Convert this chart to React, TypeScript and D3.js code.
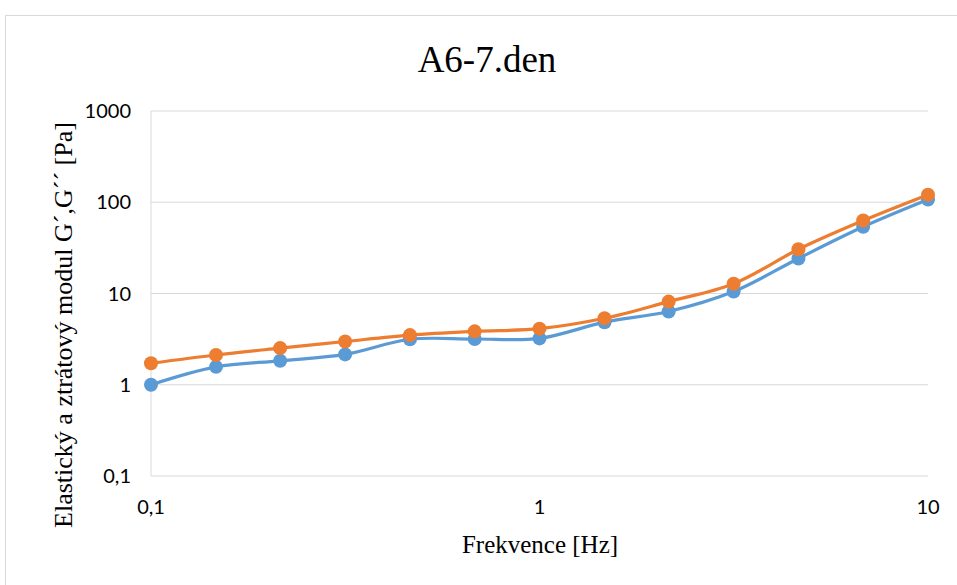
import React from "react";
import * as d3 from "d3";

const frequencies = [0.1, 0.147, 0.215, 0.316, 0.464, 0.681, 1, 1.47, 2.15, 3.16, 4.64, 6.81, 10];
const gPrime = [1.0, 1.57, 1.83, 2.15, 3.15, 3.17, 3.22, 4.85, 6.35, 10.5, 24.2, 53.8, 107];
const gDoublePrime = [1.72, 2.12, 2.52, 2.98, 3.5, 3.85, 4.12, 5.35, 8.15, 12.8, 30.5, 63, 121];
const xTicks = [0.1, 1, 10];
const yTicks = [0.1, 1, 10, 100, 1000];
const seriesColors = ["#5B9BD5", "#ED7D31"];

const fmt = (v: number) => String(v).replace(".", ",");

export default function App() {
  const W = 957, H = 585;
  const x = d3.scaleLog().domain([0.1, 10]).range([151, 928]);
  const y = d3.scaleLog().domain([0.1, 1000]).range([476, 111]);
  const line = d3
    .line<[number, number]>()
    .x((d) => x(d[0]))
    .y((d) => y(d[1]))
    .curve(d3.curveCatmullRom.alpha(0.5));
  const series = [gPrime, gDoublePrime];
  const sans = "Lato, 'Open Sans', sans-serif";
  const serif = "Liberation Serif";
  return (
    <svg width={W} height={H} style={{ position: "absolute", left: 0, top: 0, fontFamily: "serif" }}>
      <rect x={0} y={0} width={W} height={H} fill="#fff" />
      <rect x={5.5} y={15.5} width={1000} height={1000} fill="none" stroke="#d9d9d9" strokeWidth={1} />
      <text x={487} y={72} textAnchor="middle" fontFamily={serif} fontSize={37} fill="#000">
        A6-7.den
      </text>
      {yTicks.map((t) => (
        <line key={"g" + t} x1={151} x2={928} y1={y(t)} y2={y(t)} stroke="#d9d9d9" strokeWidth={1} />
      ))}
      <line x1={151} x2={151} y1={111} y2={476} stroke="#d9d9d9" strokeWidth={1} />
      {yTicks.map((t) => (
        <text key={"yt" + t} x={131} y={y(t)} dy="0.35em" textAnchor="end" fontFamily={sans} fontSize={20} fill="#000">
          {fmt(t)}
        </text>
      ))}
      {xTicks.map((t) => (
        <text key={"xt" + t} x={x(t)} y={514} textAnchor="middle" fontFamily={sans} fontSize={20} fill="#000">
          {fmt(t)}
        </text>
      ))}
      <text x={540} y={553} textAnchor="middle" fontFamily={serif} fontSize={25} fill="#000">
        Frekvence [Hz]
      </text>
      <text
        transform={`translate(72,325) rotate(-90)`}
        textAnchor="middle"
        fontFamily={serif}
        fontSize={26}
        fill="#000"
      >
        Elastický a ztrátový modul G´,G´´  [Pa]
      </text>
      {series.map((vals, i) => {
        const pts = frequencies.map((f, j) => [f, vals[j]] as [number, number]);
        return (
          <g key={"s" + i}>
            <path d={line(pts) || ""} fill="none" stroke={seriesColors[i]} strokeWidth={3.2} />
            {pts.map((p, j) => (
              <circle key={j} cx={x(p[0])} cy={y(p[1])} r={7} fill={seriesColors[i]} />
            ))}
          </g>
        );
      })}
    </svg>
  );
}
